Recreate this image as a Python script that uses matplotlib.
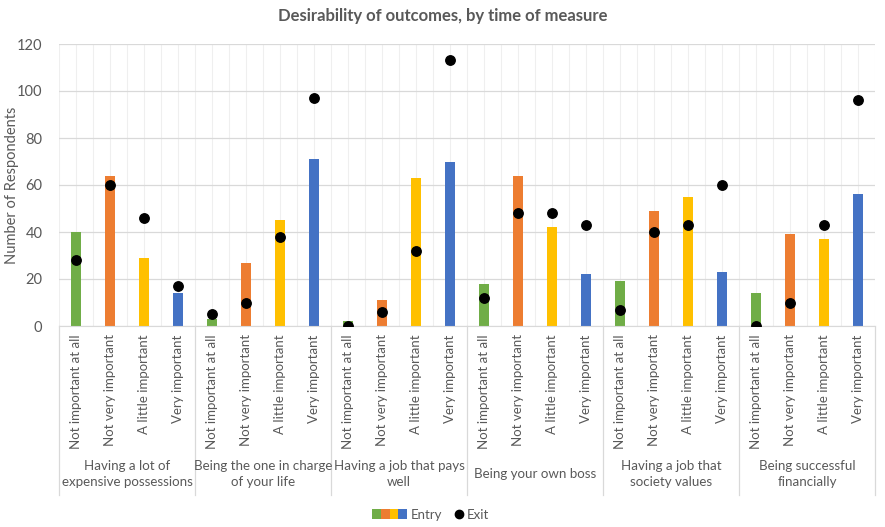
import matplotlib
matplotlib.use("Agg")
import matplotlib.pyplot as plt
from matplotlib.patches import Patch
from matplotlib.lines import Line2D
from matplotlib.legend_handler import HandlerTuple, HandlerBase
import numpy as np

plt.rcParams['font.family'] = ['Lato', 'DejaVu Sans']

groups = [
    "Having a lot of\nexpensive possessions",
    "Being the one in charge\nof your life",
    "Having a job that pays\nwell",
    "Being your own boss",
    "Having a job that\nsociety values",
    "Being successful\nfinancially",
]
levels = ["Not important at all", "Not very important", "A little important", "Very important"]
level_colors = ["#70AD47", "#ED7D31", "#FFC000", "#4472C4"]

entry = [
    40, 64, 29, 14,
    3, 27, 45, 71,
    2, 11, 63, 70,
    18, 64, 42, 22,
    19, 49, 55, 23,
    14, 39, 37, 56,
]
exit_ = [
    28, 60, 46, 17,
    5, 10, 38, 97,
    0, 6, 32, 113,
    12, 48, 48, 43,
    7, 40, 43, 60,
    0, 10, 43, 96,
]

text_color = "#595959"
grid_color = "#D9D9D9"


class RightDotHandler(HandlerBase):
    """Legend handle that draws a single dot near the right end of the handle box."""

    def create_artists(self, legend, orig_handle, xdescent, ydescent, width, height,
                       fontsize, trans):
        dot = Line2D([width - xdescent - 3], [height / 2 - ydescent], linestyle="none",
                     marker="o", color="black", markersize=6, transform=trans)
        return [dot]


fig = plt.figure(figsize=(8.85, 5.27), dpi=100)
ax = fig.add_axes([59 / 885, 1 - 326 / 527, 816 / 885, 282 / 527])

n = len(entry)
x = np.arange(n)
bar_colors = [level_colors[i % 4] for i in range(n)]

ax.set_xlim(-0.5, n - 0.5)
ax.set_ylim(0, 120)

# light vertical grid at every half category
for gx in np.arange(-0.5, n, 0.5):
    ax.axvline(gx, color="#EFEFEF", lw=0.8, zorder=0)
ax.set_yticks(np.arange(0, 121, 20))
ax.yaxis.grid(True, color=grid_color, lw=0.9, zorder=0)
ax.set_axisbelow(True)

ax.bar(x, entry, width=0.32, color=bar_colors, zorder=2)
ax.plot(x, exit_, linestyle="none", marker="o", color="black", markersize=6.8, zorder=3)

for s in ["top", "right", "left"]:
    ax.spines[s].set_visible(False)
ax.spines["bottom"].set_color(grid_color)
ax.tick_params(axis="y", length=0, labelcolor=text_color, labelsize=10.5, pad=12)
ax.tick_params(axis="x", length=0, labelcolor=text_color, labelsize=9.5, pad=6)
ax.set_xticks(x)
ax.set_xticklabels([levels[i % 4] for i in range(n)], rotation=90, va="top", ha="center")

ax.set_ylabel("Number of Respondents", color=text_color, fontsize=10.5)
ax.yaxis.set_label_coords(-0.0495, 0.5)

# group separators and group labels below the axis
trans = ax.get_xaxis_transform()
for b in np.arange(-0.5, n + 0.5, 4):
    ax.plot([b, b], [0, -0.6], transform=trans, color=grid_color, lw=0.9, clip_on=False)
for gi, g in enumerate(groups):
    ax.text(gi * 4 + 1.5, -0.525, g, transform=trans, ha="center", va="center",
            color=text_color, fontsize=9.6, linespacing=1.35)

fig.suptitle("Desirability of outcomes, by time of measure", x=0.5, y=0.985,
             fontsize=12, fontweight="bold", color=text_color)

entry_handle = tuple(Patch(facecolor=c, edgecolor="none") for c in level_colors)
exit_handle = Line2D([], [], linestyle="none", marker="o", color="black")
fig.legend([entry_handle, exit_handle], ["Entry", "Exit"],
           handler_map={tuple: HandlerTuple(ndivide=None, pad=0),
                        Line2D: RightDotHandler()},
           loc="center", bbox_to_anchor=(0.487, 1 - 515 / 527), ncol=2, frameon=False,
           fontsize=9.5, labelcolor=text_color, handlelength=2.6, handleheight=0.8,
           columnspacing=-1.0, handletextpad=0.3)

fig.savefig("out.png", dpi=100, facecolor="white")
